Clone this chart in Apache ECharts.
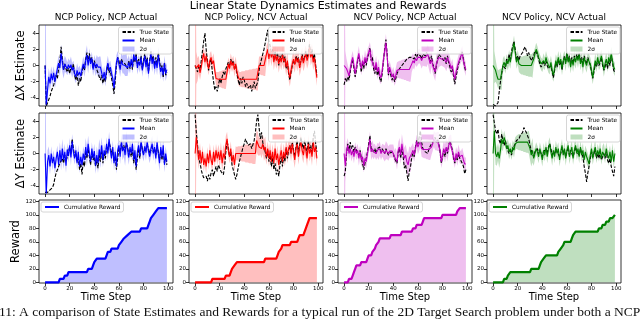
<!DOCTYPE html>
<html>
<head>
<meta charset="utf-8">
<title>Linear State Dynamics Estimates and Rewards</title>
<script src="https://cdn.jsdelivr.net/npm/echarts@6.0.0/dist/echarts.min.js"></script>
<style>
  html, body { margin: 0; padding: 0; background: #fff; }
  #chart { width: 640px; height: 320px; }
</style>
</head>
<body>
<div id="chart"></div>
<script>
// ---- tick labels / text ----
const xTicks = [0, 20, 40, 60, 80, 100];
const stateTicks = [-4, -2, 0, 2, 4];
const rewardTicks = [0, 20, 40, 60, 80, 100, 120];
const colTitles = ['NCP Policy, NCP Actual', 'NCP Policy, NCV Actual', 'NCV Policy, NCP Actual', 'NCV Policy, NCV Actual'];
const rowNames = ['\u0394X Estimate', '\u0394Y Estimate', 'Reward'];

// ---- NCP policy, NCP actual ----
const trueX_pp = [
  0, -5.0, -4.6, -4.2, -3.8, -3.2, -2.8, -2.4, -2.2, -1.2,
  -1.6, -0.4, 0.6, 2.3, 0.8, -0.6, 0.2, -0.4, -0.8, -0.3,
  -1.0, -0.2, -0.5, 0.2, -1.2, -1.8, -1.0, -2.5, -1.6, -2.0,
  -0.8, 0.0, -0.6, 0.8, 1.6, 0.4, 1.5, 0.5, 1.0, -0.3,
  0.6, 0.0, -0.5, -0.9, -1.4, -1.8, -1.2, -2.2, -1.5, -2.0,
  -0.8, 0.2, -0.9, -0.6, -1.6, -2.4, -3.5, -2.0, 0.2, 1.0,
  0.6, -0.2, 0.8, 0.4, 0.6, 0.2, 0.4, -0.4, 0.6, -0.4,
  0.5, -0.5, 1.0, 0.4, 1.5, 0.0, 0.8, 0.2, 1.2, -0.4,
  0.5, 1.5, 0.2, 1.0, -0.8, 0.6, 1.8, 0.6, 1.2, 0.0,
  1.0, 0.2, 1.6, 0.6, -0.6, 0.0, -1.5, 0.4, -1.2, -0.8
];
const meanX_pp = [
  0, -4.8, -3.0, -1.4, -2.2, -1.0, -1.8, -0.9, -2.0, -1.2,
  -0.4, 0.3, -0.3, 1.5, 0.4, -0.5, 0.2, 0.0, -0.4, 0.1,
  -0.3, 0.1, -0.6, -0.2, -1.0, -1.4, -0.6, -1.2, -0.8, -1.3,
  -0.5, 0.2, -0.4, 0.6, 1.3, 0.0, 1.2, 0.2, 0.9, -0.5,
  0.4, -0.3, 0.2, -0.2, -0.2, -0.2, -0.9, -1.6, -0.8, -1.8,
  -0.4, 0.3, -0.6, -0.2, -1.0, -1.6, -2.8, -1.2, 0.4, 1.0,
  0.2, -0.5, 0.6, 0.1, 0.2, 0.0, 0.1, -0.3, 0.4, -0.2,
  0.8, -0.2, 1.4, 0.6, 1.2, -0.3, 0.5, 0.0, 1.0, -0.6,
  0.3, 1.2, -0.2, 0.8, -1.0, 0.4, 1.5, 0.2, 1.0, -0.4,
  0.6, -0.3, 1.3, 0.1, -0.8, -0.2, -1.2, 0.3, -1.0, -0.5
];
const trueY_pp = [
  -4.8, -5.0, -4.8, -4.6, -4.5, -4.4, -4.2, -3.8, -3.0, -2.4,
  -2.0, -1.6, -1.2, -1.4, -0.6, -1.2, -0.2, -1.0, -0.4, 0.2,
  0.8, 0.0, 1.8, 0.6, -0.4, 0.0, -1.0, -0.6, -2.0, -1.2,
  -2.6, -1.0, -1.6, 0.2, -0.6, 0.6, -0.4, -1.4, 0.2, -0.8,
  -0.4, -1.6, -0.8, -1.8, -0.2, -1.0, 0.4, -1.2, 0.0, -0.6,
  0.8, 0.4, 1.4, 0.8, 0.0, 0.4, -1.0, -0.4, -2.0, -0.6,
  0.6, 0.0, 1.2, 0.6, 1.0, 0.2, 1.2, 0.8, -0.2, 0.4,
  -0.4, 0.6, -1.2, -0.2, -2.0, -0.6, 0.6, -0.6, 1.2, 0.6,
  0.0, 0.6, 0.4, 1.0, 0.6, 0.0, 0.4, 0.8, 0.2, 0.6,
  -0.2, 1.0, 0.2, -0.8, 0.4, -0.8, 0.4, -1.2, -0.4, -1.4
];
const meanY_pp = [
  0, -4.9, -1.0, -0.2, -1.6, 0.0, -1.2, -0.4, -1.8, -0.6,
  0.2, -1.4, 0.4, -1.0, 0.6, -0.8, 0.2, -1.5, 0.5, -0.3,
  1.0, -0.5, 1.5, 0.2, -0.6, 0.4, -1.2, 0.2, -1.6, -0.4,
  -1.4, 0.0, -0.8, 0.8, -0.4, 1.2, 0.0, -1.0, 0.6, -0.6,
  0.3, -1.5, -0.2, -1.2, 0.5, -0.5, 1.0, -0.8, 0.4, -0.2,
  1.2, 0.0, 1.8, 0.4, -0.6, 0.8, -1.2, 0.2, -1.6, 0.4,
  1.0, -0.4, 1.5, 0.3, 0.8, -0.2, 1.4, 0.6, -0.5, 0.8,
  0.0, 1.2, -0.8, 0.4, -1.6, 0.2, 1.0, -0.3, 1.6, 0.4,
  -0.2, 0.9, 0.1, 1.5, 0.3, -0.4, 0.6, 1.2, 0.0, 0.8,
  -0.6, 1.4, 0.0, -1.2, 0.8, -0.5, 1.0, -1.4, 0.0, -1.0
];
const twoSigma_pp = [
  20, 2.0, 1.4, 1.1, 1.0, 0.9, 0.9, 0.8, 0.8, 0.8,
  0.8, 0.9, 1.0, 1.1, 1.2, 1.1, 1.0, 0.9, 0.8, 0.8,
  0.9, 1.0, 0.9, 0.8, 0.8, 0.8, 0.9, 0.9, 0.8, 0.8,
  0.8, 0.9, 1.0, 1.1, 1.2, 1.0, 0.9, 0.8, 0.8, 0.8,
  0.9, 1.0, 1.1, 1.2, 1.3, 1.3, 1.0, 0.9, 0.8, 0.8,
  0.8, 0.9, 0.9, 0.8, 0.8, 0.8, 0.9, 1.0, 0.9, 0.8,
  0.8, 0.9, 1.0, 1.1, 1.2, 1.3, 1.4, 1.0, 0.9, 0.8,
  0.8, 0.8, 0.9, 1.0, 0.9, 0.8, 0.8, 0.9, 0.9, 0.8,
  0.8, 0.9, 1.0, 0.9, 0.8, 0.8, 0.9, 1.0, 0.9, 0.8,
  0.8, 0.9, 1.0, 1.0, 0.9, 0.8, 0.8, 0.9, 0.9, 0.8
];
const reward_pp = [[0, 0], [11, 0], [12, 5], [15, 5], [16, 10], [18, 10], [19, 15], [34, 15], [35, 20], [38, 20],
  [39, 25], [40, 30], [41, 30], [42, 35], [49, 35], [50, 40], [51, 45], [53, 45], [54, 50], [59, 50],
  [60, 55], [62, 60], [64, 65], [67, 70], [70, 75], [77, 75], [78, 80], [83, 80], [84, 85], [85, 90],
  [86, 95], [88, 100], [90, 105], [92, 110], [99, 110]];

// ---- NCP policy, NCV actual ----
const trueX_pv = [
  0, -0.4, -0.8, 0.0, -0.6, 0.6, 1.8, 3.0, 4.0, 2.0,
  0.6, -0.6, 0.4, 0.8, -0.8, -2.0, -3.0, -2.6, -3.2, -2.4,
  -1.6, -2.2, -1.4, -0.8, -1.2, -0.4, -0.6, 0.4, -0.2, 0.8,
  0.2, 0.6, -0.4, 0.0, -1.0, -1.8, -2.4, -1.6, -2.2, -1.4,
  -1.8, -2.6, -2.2, -2.8, -3.0, -2.4, -3.2, -2.6, -2.0, -2.8,
  -2.8, -2.0, -0.6, 0.2, 0.8, 1.4, 2.0, 2.8, 3.6, 4.4,
  3.0, 2.4, 1.2, 2.0, 0.6, 1.8, 0.8, 1.6, 0.0, 1.2,
  0.6, 1.5, 0.4, 1.1, -0.4, 0.4, -1.0, -1.8, -0.8, 0.0,
  0.6, 0.2, 1.2, 0.6, 1.0, -0.2, 0.6, 1.4, 0.5, 1.1,
  1.8, 1.0, 1.6, 2.6, 1.2, 2.0, 0.8, 1.4, 0.0, -1.2
];
const meanX_pv = [
  0, -0.3, -0.5, 0.1, -0.9, -0.2, 0.8, 1.5, 0.4, 1.2,
  0.3, -0.4, 0.6, 1.0, 0.2, 0.6, -0.6, -1.6, -1.7, -1.7,
  -1.7, -1.7, -1.7, -1.7, -1.7, -1.7, -0.8, 0.2, -0.4, 0.6,
  0.0, 0.4, -0.5, 0.2, -0.8, -1.4, -1.7, -1.7, -1.7, -1.7,
  -1.7, -1.7, -1.7, -1.7, -1.7, -1.7, -1.7, -1.7, -1.7, -1.7,
  -1.7, -1.7, 0.0, 0.0, 0.0, 0.0, 0.0, 0.0, 1.4, 2.0,
  0.8, 2.0, 1.0, 1.8, 0.4, 1.4, 0.6, 1.2, 0.2, 1.0,
  0.4, 1.3, 0.5, 0.9, -0.2, 0.6, -0.8, -1.5, -0.6, 0.2,
  0.8, 0.1, 1.0, 0.4, 0.9, -0.3, 0.5, 1.2, 0.3, 0.9,
  1.5, 0.6, 1.2, 2.2, 1.0, 1.6, 0.4, 1.0, -0.4, -1.5
];
const trueY_pv = [
  4.8, 2.6, 1.0, -0.6, -1.2, -2.0, -2.6, -3.0, -3.2, -2.8,
  -3.4, -2.6, -3.2, -2.4, -2.0, -2.8, -2.2, -1.6, -2.2, -1.4,
  -1.8, -2.2, -2.0, -2.6, -1.6, 0.2, 1.6, 0.6, -0.4, 0.2,
  -1.4, -2.0, -2.6, -3.2, -2.6, -1.8, -1.0, -0.4, 0.2, 0.8,
  1.2, 1.8, 1.4, 1.0, 0.8, 1.2, 0.6, 0.8, 1.6, 2.6,
  4.0, 4.8, 3.2, 1.8, 2.6, 1.4, 0.6, 0.2, -0.6, 0.4,
  -1.0, -0.2, -1.6, -0.6, -2.0, -1.2, -2.6, -2.0, -2.8, -1.4,
  -0.4, -1.6, -0.2, -1.0, 0.6, -0.6, 0.4, 1.0, 0.0, 1.4,
  0.4, -0.4, 0.8, 1.6, 0.0, 1.0, 2.0, 1.2, 0.6, 1.6,
  0.8, 0.0, 1.6, 0.6, 1.0, 0.0, 2.0, 2.8, 1.2, 0.2
];
const meanY_pv = [
  0, 2.0, 0.6, -0.8, 0.4, -1.2, 0.2, -1.4, -0.6, -1.6,
  0.0, -1.2, 0.4, -0.8, -1.4, 0.2, -1.0, 0.4, -0.6, 0.2,
  -0.8, 0.4, -1.2, 0.0, -0.6, 1.0, 1.8, 0.4, -0.4, 0.6,
  -1.0, -0.2, -1.4, 0.0, 0.0, 0.0, 0.0, 0.0, 0.0, 0.0,
  0.0, 0.0, 0.0, 0.0, 0.0, 0.0, 0.0, 0.0, 0.0, 0.0,
  1.6, 1.2, 0.8, 1.0, 0.6, 1.2, 0.4, 0.8, -0.4, 0.6,
  -0.6, 0.4, -1.0, 0.2, -1.2, 0.6, -0.8, 0.0, -1.4, -0.4,
  0.4, -1.0, 0.2, -0.6, 0.8, -0.2, 0.6, 1.0, 0.0, 1.2,
  0.2, -0.8, 0.6, 1.2, -0.4, 0.8, 1.4, 0.4, -0.2, 1.0,
  0.4, -0.6, 1.2, 0.0, 0.6, -0.4, 1.4, 0.2, 0.8, -0.6
];
const twoSigma_pv = [
  20, 2.0, 1.4, 1.1, 0.9, 0.8, 0.8, 0.8, 0.9, 0.9,
  0.8, 0.8, 0.9, 0.8, 0.8, 0.9, 0.8, 0.8, 0.9, 0.9,
  1.0, 1.0, 1.1, 1.1, 1.2, 1.2, 0.9, 0.8, 0.8, 0.9,
  0.8, 0.8, 0.9, 0.9, 0.8, 0.9, 0.9, 0.9, 1.0, 1.0,
  1.0, 1.1, 1.1, 1.1, 1.2, 1.2, 1.2, 1.3, 1.3, 1.3,
  1.4, 1.4, 1.1, 1.1, 1.2, 1.2, 1.3, 1.3, 1.0, 0.9,
  1.0, 1.0, 1.1, 1.0, 1.0, 1.1, 1.0, 1.0, 1.1, 1.0,
  1.0, 1.1, 1.0, 1.0, 1.1, 1.0, 1.0, 1.1, 1.0, 1.0,
  1.1, 1.0, 1.0, 1.1, 1.0, 1.0, 1.1, 1.0, 1.0, 1.1,
  1.0, 1.0, 1.1, 1.0, 1.0, 1.1, 1.0, 1.0, 1.1, 1.0
];
const reward_pv = [[0, 0], [13, 0], [14, 5], [24, 5], [25, 10], [28, 10], [29, 15], [30, 20], [32, 25], [34, 30],
  [56, 30], [57, 35], [66, 35], [67, 40], [68, 45], [70, 50], [71, 55], [77, 55], [78, 60], [83, 60],
  [84, 65], [85, 70], [88, 70], [89, 75], [90, 80], [91, 85], [92, 90], [93, 95], [99, 95]];

// ---- NCV policy, NCP actual ----
const trueX_vp = [
  -2.4, -1.6, -2.0, -1.4, -1.8, -0.8, 0.2, 0.8, -0.4, -1.4,
  -0.6, 0.6, 1.2, 0.2, -0.8, 0.4, -0.4, 0.8, 0.0, 1.0,
  1.4, 2.2, 0.6, 1.0, -0.4, -1.0, 0.0, -1.2, -0.6, -1.6,
  -2.0, -1.0, 0.6, 2.0, 3.2, 1.4, -1.2, -0.6, -1.2, -1.8,
  -1.2, -2.0, -1.6, -1.0, -0.8, -0.4, -0.2, 0.0, 0.2, 0.4,
  0.6, 0.8, 1.0, 1.0, 1.2, 1.0, 1.2, 0.8, 1.4, 1.0,
  1.4, 1.6, 1.2, 0.8, 1.4, 1.6, 1.2, 1.6, 1.8, 1.0,
  0.4, 1.2, 0.2, -0.2, -1.0, 0.0, 0.8, 1.4, 1.2, 1.0,
  1.2, 0.6, 1.0, 0.2, 1.2, 0.4, -0.2, -0.8, -0.4, -1.4,
  -2.3, -1.4, -0.6, 0.2, 0.6, 1.2, 1.8, 0.8, -0.2, -0.8
];
const meanX_vp = [
  0, -0.2, -0.4, -0.8, -1.3, -0.4, 0.4, 1.0, 0.0, -1.0,
  -0.2, 0.8, 1.5, 0.4, -0.4, 0.6, 0.0, 1.0, 0.3, 1.2,
  1.6, 2.0, 0.8, 1.0, 0.0, -0.5, 0.4, -0.8, -0.2, -1.2,
  -1.5, -0.6, 0.8, 1.8, 2.8, 1.2, -1.0, -0.2, -0.8, -1.4,
  -1.0, -1.7, -1.2, -0.6, -0.5, -0.5, -0.5, -0.5, -0.5, -0.5,
  -0.5, -0.5, -0.5, -0.5, -0.5, 0.2, 0.6, 0.3, 0.9, 0.6,
  1.0, 1.2, 1.0, 0.6, 1.0, 1.0, 1.0, 1.0, 1.4, 0.8,
  0.2, 0.8, 0.0, -0.4, -0.8, 0.2, 0.6, 1.0, 0.8, 0.8,
  0.8, 0.8, 0.8, 0.4, 1.0, 0.6, 0.2, -0.4, 0.0, -1.0,
  -1.7, -0.8, -0.2, 0.4, 0.8, 1.2, 1.5, 0.6, 0.0, -0.5
];
const trueY_vp = [
  -2.8, -2.2, 0.0, 1.2, 0.4, 1.4, 0.6, 1.0, 0.2, 0.8,
  0.4, 0.6, -0.2, 0.4, -0.6, -1.2, -2.0, -1.2, -0.6, 0.2,
  1.2, 2.2, 0.6, 0.8, 0.2, 0.6, 0.0, 0.6, 0.4, 0.8,
  0.2, 0.6, 0.4, 0.0, 0.6, 0.2, -0.2, 0.0, 0.2, 0.4,
  0.0, -0.6, -0.4, -1.2, 0.2, 0.6, -0.6, 0.8, -0.4, -1.8,
  -1.4, -2.4, -3.4, -2.2, -1.6, -0.4, 0.0, -0.4, 0.8, 1.6,
  1.2, 2.0, 2.8, 1.4, 0.6, 0.8, 0.2, 0.4, 0.0, 0.6,
  0.8, 1.2, 1.0, 1.6, 2.0, 1.4, 1.8, 1.2, 0.2, -1.2,
  -0.4, 0.4, -0.4, 0.6, 0.0, 1.0, 1.6, 1.8, 0.4, -0.6,
  -1.2, -0.4, -0.8, 0.0, -0.6, -0.8, -1.2, -1.6, -2.5, -2.0
];
const meanY_vp = [
  0, -1.5, 0.2, 1.0, 0.0, 0.6, -0.2, 0.4, -0.4, 0.6,
  0.0, 0.4, -0.6, 0.2, -0.8, -0.4, -1.5, -0.6, -1.0, 0.0,
  0.8, 1.8, 0.2, 0.6, 0.2, 0.4, 0.0, 0.4, 0.2, 0.6,
  0.0, 0.4, 0.2, 0.0, 0.4, 0.3, 0.0, 0.3, 0.3, 0.3,
  0.3, -0.4, -0.2, -1.0, 0.4, 0.8, -0.2, 1.2, 0.2, -0.6,
  -0.2, -1.0, -1.4, -0.6, -0.8, 0.0, 0.4, -0.2, 0.6, 1.5,
  0.8, 1.2, 1.6, 0.6, 0.5, 0.5, 0.5, 0.5, 0.5, 0.5,
  0.5, 0.8, 1.2, 1.8, 1.5, 1.5, 1.5, 1.5, 0.4, -1.0,
  -0.2, 0.6, 0.0, 0.8, 0.2, 1.0, 1.4, 1.5, 0.2, -0.4,
  -1.0, 0.0, -0.6, 0.2, -0.4, -0.5, -0.2, -0.8, -1.3, -1.3
];
const twoSigma_vp = [
  20, 2.0, 1.2, 0.9, 0.8, 0.8, 0.8, 0.8, 0.8, 0.8,
  0.8, 0.8, 0.9, 0.8, 0.8, 0.8, 0.8, 0.9, 0.8, 0.8,
  0.8, 0.9, 1.0, 1.0, 0.9, 0.8, 0.8, 0.9, 1.0, 0.9,
  0.8, 0.8, 0.9, 1.0, 1.1, 1.0, 0.9, 0.8, 0.8, 0.8,
  0.8, 0.8, 0.9, 1.0, 1.0, 1.1, 1.1, 1.2, 1.2, 1.3,
  1.3, 1.4, 1.4, 1.5, 1.5, 1.0, 0.9, 0.8, 0.8, 0.8,
  0.9, 0.9, 0.9, 1.0, 1.0, 1.1, 1.1, 1.2, 1.2, 1.3,
  1.3, 1.0, 0.9, 1.0, 1.1, 1.1, 1.2, 1.2, 0.9, 0.8,
  0.9, 1.0, 1.1, 1.1, 1.2, 1.0, 0.9, 0.8, 0.8, 0.8,
  0.8, 0.8, 0.9, 0.9, 0.8, 0.8, 0.9, 0.9, 0.8, 0.8
];
const reward_vp = [[0, 0], [3, 0], [4, 5], [6, 5], [7, 10], [8, 15], [9, 20], [10, 25], [13, 25], [14, 30],
  [18, 30], [19, 35], [20, 40], [22, 40], [23, 45], [25, 50], [26, 55], [28, 60], [29, 65], [37, 65],
  [38, 70], [46, 70], [47, 75], [55, 75], [56, 80], [58, 80], [59, 85], [63, 85], [64, 90], [65, 95],
  [79, 95], [80, 100], [91, 100], [92, 105], [94, 110], [99, 110]];

// ---- NCV policy, NCV actual ----
const trueX_vv = [
  -4.8, -5.0, -5.0, -5.0, -4.6, -3.2, -2.0, -1.0, 0.0, 0.2,
  -0.4, 0.8, 0.4, 1.4, 0.6, 1.8, 2.4, 3.0, 2.0, 0.6,
  1.2, 0.6, 1.2, 1.0, 1.6, 2.0, 2.3, 1.8, 1.2, 1.6,
  1.0, 0.6, 0.8, 1.2, 1.8, 1.8, 1.4, 0.8, 0.2, -0.2,
  0.0, 0.4, 0.0, 0.6, 0.0, -0.4, -0.6, 0.0, -0.8, -1.5,
  -0.6, 0.4, -0.2, 0.8, 0.0, 0.6, -0.6, 0.4, 1.2, 0.4,
  1.6, 0.6, 1.2, 0.2, 1.0, 0.2, 1.2, 0.6, 1.4, 0.8,
  1.6, 0.6, 1.0, 0.2, 1.2, 0.6, 0.2, 1.0, 0.8, 0.0,
  -0.8, -1.6, -0.8, 0.2, -0.2, 0.6, 0.0, 0.4, 1.0, 0.0,
  -0.6, -0.2, 0.6, -0.4, 0.6, 0.0, 1.2, 0.4, -0.6, -0.8
];
const meanX_vv = [
  0, -0.2, -0.6, -1.2, -1.7, -1.7, -1.7, -1.7, 0.0, 0.4,
  -0.2, 0.6, 0.2, 1.0, 0.4, 1.4, 2.0, 2.8, 1.6, 0.4,
  1.0, 0.2, 0.0, 0.0, 0.0, 0.0, 0.0, 0.0, 0.0, 0.0,
  0.0, 0.0, 0.0, 0.8, 1.4, 2.0, 1.6, 1.0, 0.6, 0.2,
  0.0, 0.6, 0.2, 1.0, 0.4, 0.0, -0.3, 0.4, -0.6, -1.2,
  -0.4, 0.6, 0.0, 1.0, 0.2, 0.8, -0.4, 0.6, 1.0, 0.2,
  1.5, 0.4, 1.0, -0.2, 0.8, 0.0, 1.0, 0.4, 1.2, 0.6,
  1.4, 0.2, 0.8, -0.2, 1.0, 0.4, 0.0, 0.8, 0.6, 0.2,
  -0.6, -1.5, -0.4, 0.6, 0.0, 1.0, 0.2, 0.6, 1.2, 0.4,
  -0.5, 0.2, 0.8, 0.0, 1.0, 0.4, 1.5, 0.6, -0.2, -0.5
];
const trueY_vv = [
  4.8, 3.8, 2.8, 2.4, 3.0, 1.6, 1.2, 2.4, 1.6, 1.0,
  1.6, 0.8, 0.6, 0.0, 0.4, -0.2, 0.6, 0.8, 1.2, 1.6,
  1.4, 1.8, 2.2, 2.0, 2.6, 3.2, 3.0, 2.6, 2.2, 1.8,
  1.0, 0.4, 0.2, -0.4, 0.2, 0.4, 0.6, 0.0, 0.4, 0.2,
  -0.4, 0.2, 0.0, 0.6, 0.0, 0.8, 1.2, 0.6, -0.2, 0.2,
  -0.2, 0.6, 0.2, 0.4, -0.4, 0.0, 0.8, 0.0, 0.4, -0.4,
  0.2, 0.8, -0.2, 0.4, 0.6, -0.4, 0.2, 0.8, 0.2, 0.4,
  -0.2, 0.6, 0.0, -0.4, -1.6, -2.4, -3.5, -2.4, -1.6, -0.6,
  0.2, -0.4, 0.0, 0.6, -0.6, 0.0, -0.6, 0.2, -0.8, -0.4,
  0.0, -0.6, 0.2, -0.8, -1.2, -0.6, -1.6, -2.2, -2.8, -1.6
];
const meanY_vv = [
  0, 2.8, 0.0, -0.4, 0.2, -0.6, 0.4, 1.8, 1.2, 2.0,
  1.4, 0.6, 1.0, 0.2, 0.6, 0.0, 0.8, 0.4, 1.2, 1.4,
  1.4, 1.4, 1.4, 1.4, 1.4, 1.4, 1.4, 1.4, 1.4, 1.4,
  0.6, -0.2, 0.4, -0.6, 0.0, 0.6, 0.2, -0.4, 0.6, 0.0,
  -0.8, 0.4, -0.2, 0.8, -0.4, 0.6, 1.2, 0.2, -0.6, 0.4,
  -0.4, 0.8, 0.0, 0.6, -0.8, 0.2, 1.0, -0.2, 0.6, -0.6,
  0.4, 1.0, -0.4, 0.2, 0.8, -0.6, 0.4, 1.0, 0.0, 0.6,
  -0.4, 0.8, -0.2, 0.4, -0.8, 0.2, -0.4, -0.8, -1.3, -0.2,
  0.6, -0.6, 0.2, 0.8, -0.4, 0.4, -0.2, 0.6, -0.6, 0.2,
  0.4, -0.4, 0.6, -0.2, -0.6, 0.2, -1.0, 0.4, -1.0, 0.0
];
const twoSigma_vv = [
  20, 2.0, 1.4, 1.1, 1.1, 1.2, 1.3, 1.3, 0.9, 0.8,
  0.8, 0.8, 0.8, 0.9, 0.8, 0.8, 0.8, 0.9, 0.8, 0.8,
  0.9, 1.0, 1.0, 1.1, 1.1, 1.2, 1.2, 1.3, 1.3, 1.4,
  1.4, 1.4, 1.5, 0.9, 0.8, 0.8, 0.8, 0.8, 0.8, 0.8,
  0.8, 0.9, 0.8, 0.8, 0.8, 0.9, 0.8, 0.8, 0.9, 0.8,
  0.8, 0.8, 0.9, 0.8, 0.8, 0.9, 0.8, 0.8, 0.8, 0.9,
  0.8, 0.8, 0.9, 0.8, 0.8, 0.8, 0.9, 0.8, 0.8, 0.9,
  0.8, 0.8, 0.8, 0.9, 0.8, 0.8, 0.9, 0.8, 0.8, 0.8,
  0.9, 0.8, 0.8, 0.9, 0.8, 0.8, 0.8, 0.9, 0.8, 0.8,
  0.9, 0.8, 0.8, 0.8, 0.9, 0.8, 0.8, 0.9, 0.8, 0.8
];
const reward_vv = [[0, 0], [8, 0], [9, 5], [11, 5], [12, 10], [14, 15], [30, 15], [31, 20], [37, 20], [38, 25],
  [39, 30], [41, 35], [43, 40], [52, 40], [53, 45], [55, 50], [57, 55], [58, 60], [63, 60], [64, 65],
  [65, 70], [67, 75], [85, 75], [86, 80], [88, 80], [89, 85], [91, 85], [92, 90], [94, 90], [95, 95],
  [97, 95], [99, 100]];

// ---- grouping ----
const trueState = [[trueX_pp, trueX_pv, trueX_vp, trueX_vv], [trueY_pp, trueY_pv, trueY_vp, trueY_vv]];
const meanState = [[meanX_pp, meanX_pv, meanX_vp, meanX_vv], [meanY_pp, meanY_pv, meanY_vp, meanY_vv]];
const twoSigma = [twoSigma_pp, twoSigma_pv, twoSigma_vp, twoSigma_vv];
const rewards = [reward_pp, reward_pv, reward_vp, reward_vv];

const lineColors = ['#0000ff', '#ff0000', '#bf00bf', '#008000'];
const shadeColors = ['rgba(0,0,255,0.25)', 'rgba(255,0,0,0.25)', 'rgba(191,0,191,0.25)', 'rgba(0,128,0,0.25)'];

// layout (pixels)
const colLeft = [39, 189, 338, 487];
const colWidth = 134;
const rowTop = [25, 113, 200];
const rowHeight = [81, 81, 83];
const font = 'DejaVu Sans';

const chart = echarts.init(document.getElementById('chart'), null, { renderer: 'canvas' });

const grids = [], xAxes = [], yAxes = [], series = [], legends = [];

function pairs(arr) {
  return arr.map((v, i) => [i, v]);
}

// line legend entries: hide the marker circle echarts draws on the handle
const noMarker = { opacity: 0 };

for (let r = 0; r < 3; r++) {
  for (let c = 0; c < 4; c++) {
    const k = r * 4 + c;
    grids.push({
      left: colLeft[c], top: rowTop[r], width: colWidth, height: rowHeight[r],
      show: true, borderColor: '#000', borderWidth: 0.8, backgroundColor: 'transparent'
    });
    xAxes.push({
      gridIndex: k, type: 'value', min: -4.95, max: 103.95,
      axisLine: { show: false, onZero: false },
      axisTick: { show: true, customValues: xTicks, length: 3, lineStyle: { color: '#000', width: 0.8 } },
      axisLabel: { show: r === 2, customValues: xTicks, fontSize: 5.5, color: '#000', margin: 3, fontFamily: font },
      splitLine: { show: false },
      name: r === 2 ? 'Time Step' : '', nameLocation: 'middle', nameGap: 9,
      nameTextStyle: { fontSize: 10, color: '#000', fontFamily: font }
    });
    const isReward = r === 2;
    yAxes.push({
      gridIndex: k, type: 'value',
      min: isReward ? -1 : -5, max: isReward ? 122 : 5,
      axisLine: { show: false, onZero: false },
      axisTick: { show: true, customValues: isReward ? rewardTicks : stateTicks, length: 3, lineStyle: { color: '#000', width: 0.8 } },
      axisLabel: { show: isReward || c === 0, customValues: isReward ? rewardTicks : stateTicks, fontSize: 5.5, color: '#000', margin: 3, fontFamily: font },
      splitLine: { show: false },
      name: c === 0 ? rowNames[r] : '', nameLocation: 'middle', nameRotate: 90, nameGap: isReward ? 16 : 12,
      nameTextStyle: { fontSize: 11.5, color: '#000', fontFamily: font }
    });

    if (!isReward) {
      const mean = meanState[r][c];
      const truth = trueState[r][c];
      const sig = twoSigma[c];
      const hi = mean.map((m, i) => m + sig[i]);
      const lo = mean.map((m, i) => m - sig[i]);
      const fill = shadeColors[c];
      series.push({
        type: 'custom', name: '2\u03c3#' + k, xAxisIndex: k, yAxisIndex: k, silent: true, z: 1,
        itemStyle: { color: fill },
        data: pairs(mean),
        renderItem: function (params, api) {
          if (params.dataIndex !== 0) return null;
          const pts = [];
          for (let i = 0; i < hi.length; i++) pts.push(api.coord([i, hi[i]]));
          for (let i = lo.length - 1; i >= 0; i--) pts.push(api.coord([i, lo[i]]));
          const cs = params.coordSys;
          return {
            type: 'polygon', shape: { points: pts }, style: { fill: fill },
            clipPath: { type: 'rect', shape: { x: cs.x, y: cs.y, width: cs.width, height: cs.height } }
          };
        }
      });
      series.push({
        type: 'line', name: 'True State#' + k, xAxisIndex: k, yAxisIndex: k, data: pairs(truth),
        symbol: 'none', silent: true, z: 2,
        lineStyle: { color: '#000', width: 1.1, type: [3.5, 1.6] }, itemStyle: { color: '#000' }
      });
      series.push({
        type: 'line', name: 'Mean#' + k, xAxisIndex: k, yAxisIndex: k, data: pairs(mean),
        symbol: 'none', silent: true, z: 3,
        lineStyle: { color: lineColors[c], width: 1.1 }, itemStyle: { color: lineColors[c] }
      });
      legends.push({
        right: 640 - (colLeft[c] + colWidth) + 1, top: rowTop[r] + 2, orient: 'vertical',
        itemWidth: 12, itemHeight: 5, itemGap: 2.5, padding: [2, 3, 2, 3],
        backgroundColor: 'rgba(255,255,255,0.8)', borderColor: '#cccccc', borderWidth: 0.8, borderRadius: 2,
        selectedMode: false,
        textStyle: { fontSize: 5.8, color: '#000', fontFamily: font },
        formatter: function (name) { return name.split('#')[0]; },
        data: [
          { name: 'True State#' + k, itemStyle: noMarker },
          { name: 'Mean#' + k, itemStyle: noMarker },
          { name: '2\u03c3#' + k, icon: 'rect', itemStyle: { color: fill, opacity: 1 } }
        ]
      });
    } else {
      series.push({
        type: 'line', name: 'Cumulative Reward#' + k, xAxisIndex: k, yAxisIndex: k, data: rewards[c],
        symbol: 'none', silent: true,
        lineStyle: { color: lineColors[c], width: 2.2 }, itemStyle: { color: lineColors[c] },
        areaStyle: { color: shadeColors[c], opacity: 1 }
      });
      legends.push({
        left: colLeft[c] + 2, top: rowTop[r] + 2, orient: 'vertical',
        itemWidth: 14, itemHeight: 5, padding: [2, 3, 2, 3],
        backgroundColor: 'rgba(255,255,255,0.8)', borderColor: '#cccccc', borderWidth: 0.8, borderRadius: 2,
        selectedMode: false,
        textStyle: { fontSize: 5.8, color: '#000', fontFamily: font },
        formatter: function (name) { return name.split('#')[0]; },
        data: [{ name: 'Cumulative Reward#' + k, itemStyle: noMarker }]
      });
    }
  }
}

const graphics = [{
  type: 'text', x: 318, y: 6,
  style: { text: 'Linear State Dynamics Estimates and Rewards', font: '11px "DejaVu Sans"', fill: '#000', textAlign: 'center', textVerticalAlign: 'middle' }
}];
colTitles.forEach(function (t, c) {
  graphics.push({
    type: 'text', x: colLeft[c] + colWidth / 2, y: 18,
    style: { text: t, font: '9px "DejaVu Sans"', fill: '#000', textAlign: 'center', textVerticalAlign: 'middle' }
  });
});
graphics.push({
  type: 'text', x: -1, y: 312,
  style: { text: '11: A comparison of State Estimates and Rewards for a typical run of the 2D Target Search problem under both a NCP and NCV',
    font: '13.5px "Liberation Serif"', fill: '#111', textAlign: 'left', textVerticalAlign: 'middle' }
});

chart.setOption({
  animation: false,
  backgroundColor: '#fff',
  grid: grids,
  xAxis: xAxes,
  yAxis: yAxes,
  legend: legends,
  series: series,
  graphic: graphics
});
</script>
</body>
</html>
